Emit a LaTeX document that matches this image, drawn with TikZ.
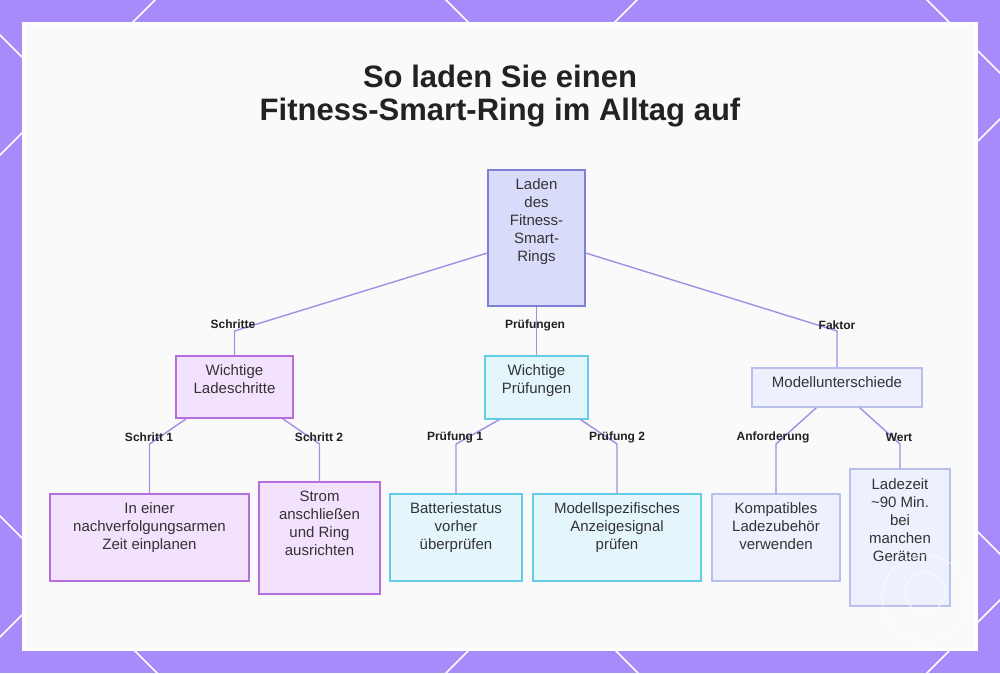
\documentclass[tikz,border=0pt]{standalone}
\usepackage{fontspec}
\setmainfont{Liberation Sans}
\usetikzlibrary{calc}
\definecolor{frame}{RGB}{167,139,250}
\definecolor{panel}{RGB}{250,250,250}
\definecolor{edgec}{RGB}{165,140,228}
\definecolor{txtc}{RGB}{51,51,51}
\definecolor{titlec}{RGB}{34,34,34}
\definecolor{rootfill}{RGB}{217,219,251}
\definecolor{rootdraw}{RGB}{125,128,215}
\definecolor{pfill}{RGB}{242,226,253}
\definecolor{pdraw}{RGB}{183,110,220}
\definecolor{cfill}{RGB}{228,246,252}
\definecolor{cdraw}{RGB}{100,205,230}
\definecolor{bfill}{RGB}{238,240,253}
\definecolor{bdraw}{RGB}{185,192,238}
\begin{document}
\begin{tikzpicture}[x=1pt,y=-1pt,
  boxbase/.style={rectangle,inner sep=0pt,line width=1.4pt},
  rootbox/.style={boxbase,fill=rootfill,draw=rootdraw},
  pbox/.style={boxbase,fill=pfill,draw=pdraw},
  cbox/.style={boxbase,fill=cfill,draw=cdraw},
  bbox/.style={boxbase,fill=bfill,draw=bdraw},
  txt/.style={anchor=north,inner sep=0pt,align=center,text=txtc,font=\fontsize{15}{18}\selectfont},
  elabel/.style={inner sep=0pt,text=titlec,font=\bfseries\fontsize{12}{14}\selectfont},
  edge/.style={draw=edgec,line width=1.4pt,line join=round},
  diag/.style={draw=white,line width=1.6pt}
]
\useasboundingbox (0,0) rectangle (1000,673);
% frame background
\fill[frame] (0,0) rectangle (1000,673);
\begin{scope}
\clip (0,0) rectangle (1000,673);
\foreach \c in {35,-446,-927,516} {
  \draw[diag] (-100,-100+\c) -- (1100,1100+\c);
}
\foreach \d in {155,637,1119,1600} {
  \draw[diag] (\d+100,-100) -- (\d-1100,1100);
}
\end{scope}
% panel
\fill[white] (22,22) rectangle (978,651);
\fill[panel] (25,25) rectangle (975,648);

% title
\node[inner sep=0pt,align=center,text=titlec,font=\bfseries\fontsize{31}{33}\selectfont] (title) at (500,96) {So laden Sie einen\\Fitness-Smart-Ring im Alltag auf};

% boxes
\node[rootbox,minimum width=97pt,minimum height=136pt] (root) at (536.5,238) {};
\node[txt] (rootT) at (536.5,177) {\strut Laden\\des\\Fitness-\\Smart-\\Rings};

\node[pbox,minimum width=117pt,minimum height=62pt] (lade) at (234.5,387) {};
\node[txt] (ladeT) at (234.5,363) {\strut Wichtige\\Ladeschritte};

\node[cbox,minimum width=103pt,minimum height=63pt] (pruef) at (536.5,387.5) {};
\node[txt] (pruefT) at (536.5,363) {\strut Wichtige\\Prüfungen};

\node[bbox,minimum width=170pt,minimum height=39pt] (modell) at (837,387.5) {};
\node[txt] (modellT) at (837,375) {\strut Modellunterschiede};

\node[pbox,minimum width=199pt,minimum height=87pt] (zeit) at (149.5,537.5) {};
\node[txt] (zeitT) at (149.5,501) {\strut In einer\\nachverfolgungsarmen\\Zeit einplanen};

\node[pbox,minimum width=121pt,minimum height=112pt] (strom) at (319.5,538) {};
\node[txt] (stromT) at (319.5,489) {\strut Strom\\anschließen\\und Ring\\ausrichten};

\node[cbox,minimum width=132pt,minimum height=87pt] (batt) at (456,537.5) {};
\node[txt] (battT) at (456,501) {\strut Batteriestatus\\vorher\\überprüfen};

\node[cbox,minimum width=168pt,minimum height=87pt] (signal) at (617,537.5) {};
\node[txt] (signalT) at (617,501) {\strut Modellspezifisches\\Anzeigesignal\\prüfen};

\node[bbox,minimum width=128pt,minimum height=87pt] (kompat) at (776,537.5) {};
\node[txt] (kompatT) at (776,501) {\strut Kompatibles\\Ladezubehör\\verwenden};

\node[bbox,minimum width=100pt,minimum height=137pt] (ladezeit) at (900,537.5) {};
\node[txt] (ladezeitT) at (900,477) {\strut Ladezeit\\\textasciitilde 90 Min.\\bei\\manchen\\Geräten};

% bend coordinates
\coordinate (b1) at (234.5,331);
\coordinate (b3) at (837,331);
\coordinate (c1) at (149.5,444);
\coordinate (c2) at (319.5,444);
\coordinate (c3) at (456,444);
\coordinate (c4) at (617,444);
\coordinate (c5) at (776,444);
\coordinate (c6) at (900,444);

% edges
\draw[edge] ([yshift=-15pt]root.west) -- (b1) -- (lade.north);
\draw[edge] (root.south) -- (pruef.north);
\draw[edge] ([yshift=-15pt]root.east) -- (b3) -- (modell.north);
\draw[edge] ([xshift=11pt]lade.south west) -- (c1) -- (zeit.north);
\draw[edge] ([xshift=-11pt]lade.south east) -- (c2) -- (strom.north);
\draw[edge] ([xshift=15pt]pruef.south west) -- (c3) -- (batt.north);
\draw[edge] ([xshift=-8pt]pruef.south east) -- (c4) -- (signal.north);
\draw[edge] ([xshift=65pt]modell.south west) -- (c5) -- (kompat.north);
\draw[edge] ([xshift=-63pt]modell.south east) -- (c6) -- (ladezeit.north);

% edge labels
\node[elabel] (l1) at (233,324) {Schritte};
\node[elabel] (l2) at (535,325) {Prüfungen};
\node[elabel] (l3) at (837,325) {Faktor};
\node[elabel] (l4) at (149,437) {Schritt 1};
\node[elabel] (l5) at (319,437) {Schritt 2};
\node[elabel] (l6) at (455,437) {Prüfung 1};
\node[elabel] (l7) at (617,437) {Prüfung 2};
\node[elabel] (l8) at (773,437) {Anforderung};
\node[elabel] (l9) at (899,437) {Wert};

% faint watermark
\draw[white,opacity=0.8,line width=0.8pt] (925,598) circle (43);
\draw[white,opacity=0.8,line width=0.8pt] (925,592) circle (20);
\end{tikzpicture}
\end{document}
